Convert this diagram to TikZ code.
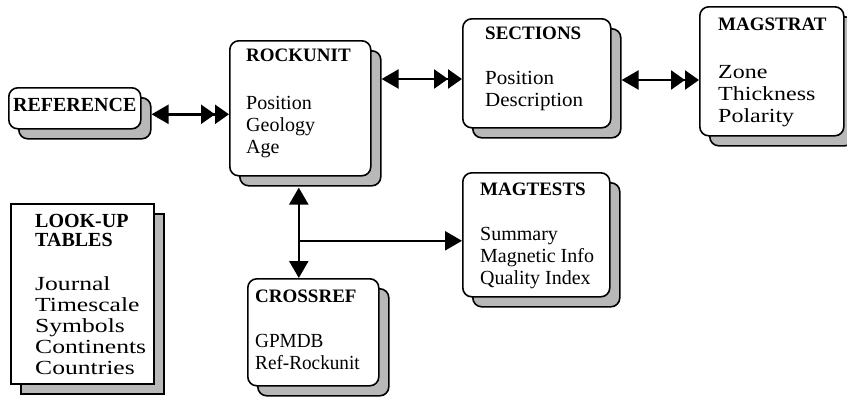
\documentclass[tikz,border=0pt]{standalone}
\usepackage{fontspec}
\setmainfont{Liberation Serif}
\usetikzlibrary{arrows.meta,calc}

\tikzset{
  mainbox/.style={draw=black, line width=1.6pt, fill=white, rounded corners=9pt,
                  anchor=north west, inner sep=0pt},
  shadebox/.style={draw=black, line width=1.6pt, fill=black!28, rounded corners=9pt,
                  anchor=north west, inner sep=0pt},
  txt/.style={anchor=north west, inner sep=0pt, align=left,
              font=\fontsize{20}{22}\selectfont\addfontfeature{FakeStretch=#1}},
  txt/.default=1,
  link/.style={line width=2.4pt},
  onehead/.style={-{Triangle[length=17pt,width=19pt]}},
  twohead/.style={{Triangle[length=17pt,width=19pt]}-{Triangle[length=14pt,width=19pt]Triangle[length=14pt,width=19pt]}},
  bothhead/.style={{Triangle[length=17pt,width=19pt]}-{Triangle[length=17pt,width=19pt]}}
}
\newcommand\ttl[2][19]{{\normalfont\fontsize{#1}{22}\selectfont\bfseries #2}}
% name, x, y, width, height, extra style
\newcommand\dbbox[6]{%
  \node[shadebox, #6, minimum width=#4pt, minimum height=#5pt] (#1s) at (#2+10,#3+10) {};
  \node[mainbox, #6, minimum width=#4pt, minimum height=#5pt] (#1) at (#2,#3) {};
}

\begin{document}
\begin{tikzpicture}[x=1pt,y=-1pt]
\useasboundingbox (0,0) rectangle (847,405);

\dbbox{ref}{8}{87}{132}{41}{}
\dbbox{rock}{229}{40}{141}{135}{}
\dbbox{sec}{462}{18}{148}{109}{}
\dbbox{mag}{699}{6}{144}{129}{}
\dbbox{tests}{462}{172}{147}{124}{}
\dbbox{cross}{247}{278}{131}{107}{}
\dbbox{look}{10}{203}{143}{180}{sharp corners}

\node[txt, anchor=center, font=\fontsize{20}{22}\selectfont\bfseries] (ref-t) at ($(ref.center)+(0,-3)$) {REFERENCE};
\node[txt=1.0] (rock-t) at ($(rock.north west)+(17,9)$) {\ttl{ROCKUNIT}\\[26pt]Position\\Geology\\Age};
\node[txt=1.05] (sec-t) at ($(sec.north west)+(23,9)$) {\ttl{SECTIONS}\\[23pt]Position\\Description};
\node[txt=1.2] (mag-t) at ($(mag.north west)+(19,12)$) {\ttl{MAGSTRAT}\\[26pt]Zone\\Thickness\\Polarity};
\node[txt=1.0] (tests-t) at ($(tests.north west)+(18,11)$) {\ttl{MAGTESTS}\\[23pt]Summary\\Magnetic Info\\Quality Index};
\node[txt=0.96] (cross-t) at ($(cross.north west)+(8,12)$) {\ttl{CROSSREF}\\[23pt]GPMDB\\Ref-Rockunit};
\node[txt, font=\fontsize{20}{21}\selectfont\addfontfeature{FakeStretch=1.28}] (look-t) at ($(look.north west)+(25,11)$)
  {\ttl[20]{LOOK-UP}\\[-2pt]\ttl[20]{TABLES}\\[23pt]Journal\\Timescale\\Symbols\\Continents\\Countries};

% connectors
\coordinate (a1) at ($(ref.east)+(10,6)$);
\draw[link, twohead] (a1) -- (a1 -| rock.west);
\coordinate (a2) at ($(rock.north east)+(10,39)$);
\draw[link, twohead] (a2) -- (a2 -| sec.west);
\coordinate (a3) at ($(sec.north east)+(10,62)$);
\draw[link, twohead] (a3) -- (a3 -| mag.west);
\coordinate (v1) at ($(rock.south)+(-1.5,11)$);
\draw[link, bothhead] (v1) -- (v1 |- cross.north);
\coordinate (h1) at ($(tests.west)+(0,6)$);
\draw[link, onehead] (v1 |- h1) -- (h1);
\end{tikzpicture}
\end{document}
